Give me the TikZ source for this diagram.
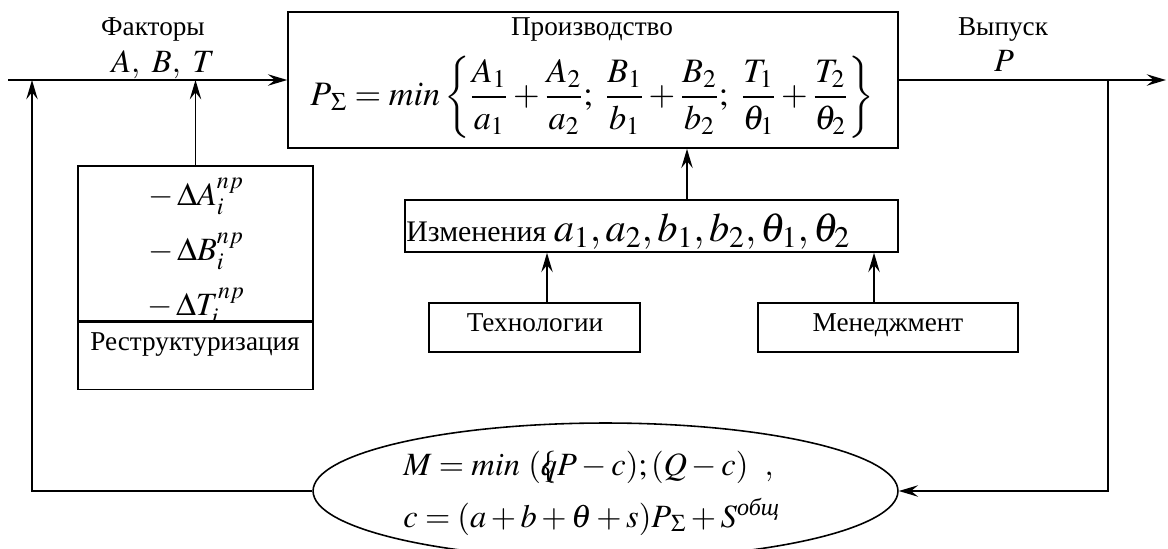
\documentclass[tikz,border=0pt]{standalone}
\usepackage{amsmath}
\usepackage{mathptmx}
\usepackage[no-math]{fontspec}
\setmainfont{Liberation Serif}
\usetikzlibrary{shapes.geometric,arrows.meta}

\begin{document}
\begin{tikzpicture}[
  x=0.02cm, y=-0.02cm,
  box/.style={draw, line width=0.9pt, inner sep=0pt},
  lbl/.style={font=\fontsize{15.5}{18}\selectfont, inner sep=0pt},
  mth/.style={font=\fontsize{18.5}{22}\selectfont, inner sep=0pt},
  arr/.style={->, >={Stealth[length=11pt, width=6.5pt, inset=4pt]}, line width=1.1pt}
]
\useasboundingbox (0,0) rectangle (1168,548);
% Production box
\node[box, minimum width=12.2cm, minimum height=2.72cm] (prod) at (593,80) {};
\node[lbl, anchor=base] (prodname) at (592,35) {Производство};
\node[mth, font=\fontsize{19.5}{22}\selectfont] (prodf) at (592,97) {$P_{\mkern3mu\Sigma} = min\left\{\dfrac{A_1}{a_1}+\dfrac{A_2}{a_2};\ \dfrac{B_1}{b_1}+\dfrac{B_2}{b_2};\ \dfrac{T_1}{\theta_1}+\dfrac{T_2}{\theta_2}\right\}$};
% Input and output labels
\node[lbl, anchor=base] (facname) at (153,35) {Факторы};
\node[mth, anchor=base] (facvars) at (163,72) {$A,\ B,\ T$};
\node[lbl, anchor=base] (outname) at (1003,35) {Выпуск};
\node[mth, anchor=base] (outvar) at (1004,71) {$P$};
% Restructuring box
\node[box, minimum width=4.7cm, minimum height=3.1cm] (deltas) at (195.5,243.5) {};
\node[mth, anchor=base] (da) at (196,205) {$-\,\Delta A_i^{np}$};
\node[mth, anchor=base] (db) at (196,260) {$-\,\Delta B_i^{np}$};
\node[mth, anchor=base] (dt) at (196,315) {$-\,\Delta T_i^{np}$};
\node[box, fill=white, minimum width=4.7cm, minimum height=1.34cm, anchor=north] (restr) at (deltas.south) {};
\node[lbl, anchor=base] (restrname) at (195,350) {Реструктуризация};
% Changes box
\node[box, minimum width=9.86cm, minimum height=1.04cm] (izm) at (651.5,226) {};
\node[anchor=base west, inner sep=0pt, font=\fontsize{17}{20}\selectfont] (izmtext) at (406,241)
  {Изменения\ {\fontsize{23}{25}\selectfont$a_1, a_2, b_1, b_2, \theta_1, \theta_2$}};
% Technology and management
\node[box, minimum width=4.22cm, minimum height=0.98cm] (tech) at (534.5,327.5) {};
\node[lbl, anchor=base] (techname) at (535,331) {Технологии};
\node[box, minimum width=5.2cm, minimum height=0.98cm] (men) at (888,327.5) {};
\node[lbl, anchor=base] (menname) at (888,331) {Менеджмент};
% Profit ellipse
\node[draw, ellipse, line width=0.9pt, inner sep=0pt, minimum width=11.7cm, minimum height=2.72cm] (ell) at (605.5,491) {};
\node[mth, anchor=base west] (m1) at (403,475) {$M = min\ (\rlap{$\{$}qP-c);(Q-c)\ \ ,$};
\node[mth, anchor=base west] (m2) at (403,527) {$c=(a+b+\theta+s)P_{\mkern3mu\Sigma}+S^{\text{\itshape общ}}$};

\coordinate (src) at (8,80);
\coordinate (dst) at (1166,80);
\coordinate (fbl) at (32,80);
\coordinate (fbr) at (1108,80);

\draw[arr] (src) -- (prod.west);
\draw[arr] (prod.east) -- (dst);
\draw[arr] (deltas.north) -- (deltas.north |- src);
\draw[arr] (ell.west) -| (fbl);
\draw[arr] (fbr) |- (ell.east);
\draw[arr] ([xshift=0.71cm]izm.north) -- ([xshift=0.71cm]izm.north |- prod.south);
\draw[arr] ([xshift=0.25cm]tech.north) -- ([xshift=0.25cm]tech.north |- izm.south);
\draw[arr] ([xshift=-0.28cm]men.north) -- ([xshift=-0.28cm]men.north |- izm.south);
\end{tikzpicture}
\end{document}
